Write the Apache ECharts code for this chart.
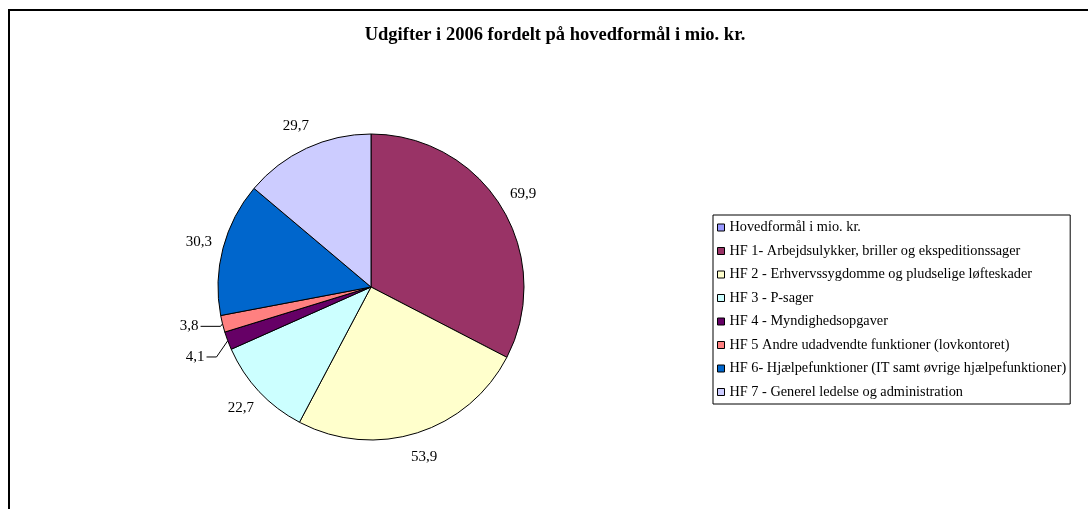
<!DOCTYPE html>
<html>
<head>
<meta charset="utf-8">
<script src="https://cdn.jsdelivr.net/npm/echarts@6/dist/echarts.min.js"></script>
<style>
html,body{margin:0;padding:0;background:#fff;}
#c{width:1088px;height:509px;}
</style>
</head>
<body>
<div id="c"></div>
<script>
const titleText = 'Udgifter i 2006 fordelt på hovedformål i mio. kr.';
const categories = [
  'Hovedformål i mio. kr.',
  'HF 1- Arbejdsulykker, briller og ekspeditionssager',
  'HF 2 - Erhvervssygdomme og pludselige løfteskader',
  'HF 3 - P-sager',
  'HF 4 - Myndighedsopgaver',
  'HF 5 Andre udadvendte funktioner (lovkontoret)',
  'HF 6- Hjælpefunktioner (IT samt øvrige hjælpefunktioner)',
  'HF 7 - Generel ledelse og administration'
];
const values = [0, 69.9, 53.9, 22.7, 4.1, 3.8, 30.3, 29.7];
const colors = ['#9999FF', '#993366', '#FFFFCC', '#CCFFFF', '#660066', '#FF8080', '#0066CC', '#CCCCFF'];
const lineLabelled = [false, false, false, false, true, true, false, false];

const FONT = '"Liberation Serif", "Times New Roman", serif';
const fmt = v => String(v).replace('.', ',');

const mainData = categories.map((name, i) => {
  const item = { name, value: values[i], itemStyle: { color: colors[i] } };
  if (values[i] === 0 || !lineLabelled[i]) {
    item.label = { show: false }; item.labelLine = { show: false };
  }
  return item;
});
mainData[4].labelLine = { show: true, length: 12, length2: 10 };
mainData[5].labelLine = { show: true, length: 2, length2: 20 };

const ringData = categories.map((name, i) => ({
  name, value: values[i],
  label: { show: values[i] !== 0 && !lineLabelled[i] }
}));

// shift the small-slice labels down a little and bend their leader lines to follow
const labelShift = { 4: 12, 5: 2 };
function shiftLabel(p) {
  const d = labelShift[p.dataIndex];
  if (!d || !p.labelLinePoints) return {};
  const pts = p.labelLinePoints;
  return {
    dy: d,
    labelLinePoints: [pts[0], [pts[1][0], pts[1][1] + d], [pts[2][0], pts[2][1] + d]]
  };
}

const chart = echarts.init(document.getElementById('c'));
chart.setOption({
  animation: false,
  backgroundColor: '#fff',
  title: {
    text: titleText,
    left: 555, top: 26, padding: 0, textAlign: 'center',
    textStyle: { fontFamily: FONT, fontSize: 18.5, fontWeight: 'bold', color: '#000' }
  },
  legend: {
    orient: 'vertical',
    left: 713, top: 215,
    padding: [5.5, 4, 5, 4],
    itemWidth: 7, itemHeight: 7, itemGap: 9.5, itemTextGap: 6,
    icon: 'rect',
    borderColor: '#000', borderWidth: 1,
    data: categories,
    textStyle: { fontFamily: FONT, fontSize: 14.3, color: '#000', lineHeight: 14 },
    itemStyle: { borderColor: '#000', borderWidth: 1 },
    selectedMode: false
  },
  graphic: [{
    type: 'rect', silent: true,
    shape: { x: 9, y: 10, width: 1200, height: 600 },
    style: { fill: 'none', stroke: '#000', lineWidth: 2 }
  }],
  series: [{
    type: 'pie',
    center: [371, 287], radius: 153,
    startAngle: 90, clockwise: true,
    avoidLabelOverlap: false,
    data: mainData,
    itemStyle: { borderColor: '#000', borderWidth: 1 },
    label: {
      show: true, position: 'outside', distanceToLabelLine: 2,
      formatter: p => fmt(p.value),
      fontFamily: FONT, fontSize: 15, color: '#000'
    },
    labelLine: { lineStyle: { color: '#000', width: 1 } },
    labelLayout: shiftLabel,
    emphasis: { disabled: true }
  }, {
    type: 'pie',
    center: [371, 287], radius: [170, 180],
    startAngle: 90, clockwise: true,
    silent: true,
    data: ringData,
    itemStyle: { color: 'rgba(0,0,0,0)' },
    label: {
      position: 'inside',
      formatter: p => fmt(p.value),
      fontFamily: FONT, fontSize: 15, color: '#000'
    },
    labelLine: { show: false },
    emphasis: { disabled: true },
    tooltip: { show: false }
  }]
});
</script>
</body>
</html>
